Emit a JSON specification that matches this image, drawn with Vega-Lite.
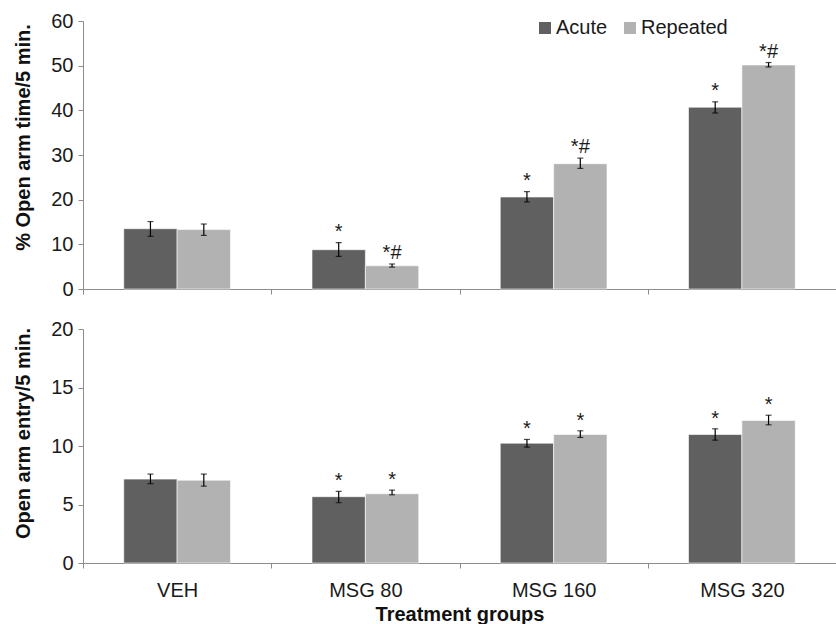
{
  "$schema": "https://vega.github.io/schema/vega-lite/v6.json",
  "background": "white",
  "padding": {"left": 12, "top": 11, "right": 0, "bottom": 0},
  "spacing": 20,
  "config": {
    "font": "Liberation Sans",
    "view": {"stroke": null},
    "axis": {
      "grid": false,
      "domainColor": "#8c8c8c",
      "tickColor": "#8c8c8c",
      "tickSize": 5,
      "labelColor": "#1a1a1a",
      "labelFontSize": 20,
      "titleFontSize": 20,
      "titleFontWeight": "bold",
      "titleColor": "#111111"
    },
    "legend": {
      "orient": "none",
      "legendX": 452,
      "legendY": -3,
      "direction": "horizontal",
      "title": null,
      "symbolType": "square",
      "symbolSize": 144,
      "symbolStrokeWidth": 0,
      "symbolOpacity": 1,
      "labelFontSize": 20,
      "labelColor": "#1a1a1a",
      "labelOffset": 1,
      "columnPadding": 12
    }
  },
  "datasets": {
    "time": [
      {"group": "VEH", "treatment": "Acute", "value": 13.5, "lo": 11.8, "hi": 15.1, "sig": ""},
      {"group": "VEH", "treatment": "Repeated", "value": 13.3, "lo": 12.0, "hi": 14.55, "sig": ""},
      {"group": "MSG 80", "treatment": "Acute", "value": 8.8, "lo": 7.3, "hi": 10.4, "sig": "*"},
      {"group": "MSG 80", "treatment": "Repeated", "value": 5.2, "lo": 4.9, "hi": 5.6, "sig": "*#"},
      {"group": "MSG 160", "treatment": "Acute", "value": 20.6, "lo": 19.5, "hi": 21.8, "sig": "*"},
      {"group": "MSG 160", "treatment": "Repeated", "value": 28.05, "lo": 27.0, "hi": 29.3, "sig": "*#"},
      {"group": "MSG 320", "treatment": "Acute", "value": 40.7, "lo": 39.4, "hi": 41.9, "sig": "*"},
      {"group": "MSG 320", "treatment": "Repeated", "value": 50.15, "lo": 49.7, "hi": 50.7, "sig": "*#"}
    ],
    "entry": [
      {"group": "VEH", "treatment": "Acute", "value": 7.17, "lo": 6.78, "hi": 7.6, "sig": ""},
      {"group": "VEH", "treatment": "Repeated", "value": 7.08, "lo": 6.57, "hi": 7.6, "sig": ""},
      {"group": "MSG 80", "treatment": "Acute", "value": 5.67, "lo": 5.15, "hi": 6.12, "sig": "*"},
      {"group": "MSG 80", "treatment": "Repeated", "value": 5.92, "lo": 5.83, "hi": 6.23, "sig": "*"},
      {"group": "MSG 160", "treatment": "Acute", "value": 10.24, "lo": 9.9, "hi": 10.56, "sig": "*"},
      {"group": "MSG 160", "treatment": "Repeated", "value": 10.98, "lo": 10.73, "hi": 11.3, "sig": "*"},
      {"group": "MSG 320", "treatment": "Acute", "value": 10.98, "lo": 10.5, "hi": 11.47, "sig": "*"},
      {"group": "MSG 320", "treatment": "Repeated", "value": 12.18, "lo": 11.81, "hi": 12.63, "sig": "*"}
    ]
  },
  "resolve": {"scale": {"color": "shared"}},
  "vconcat": [
    {
      "width": 753,
      "height": 268,
      "data": {"name": "time"},
      "encoding": {
        "x": {
          "field": "group", "type": "nominal", "sort": ["VEH", "MSG 80", "MSG 160", "MSG 320"],
          "scale": {"paddingInner": 0.433, "paddingOuter": 0.2165},
          "axis": {"labels": false, "title": null, "tickOffset": -94.1, "labelOffset": 94.1}
        },
        "xOffset": {"field": "treatment", "type": "nominal", "sort": ["Acute", "Repeated"], "scale": {"paddingInner": 0, "paddingOuter": 0}}
      },
      "layer": [
        {
          "mark": {"type": "bar", "stroke": "#ffffff", "strokeWidth": 0.6},
          "encoding": {
            "y": {
              "field": "value", "type": "quantitative",
              "scale": {"domain": [0, 60], "nice": false},
              "axis": {"values": [0, 10, 20, 30, 40, 50, 60], "title": "% Open arm  time/5 min.", "titleX": -50, "titleY": 116, "labelPadding": 5}
            },
            "color": {
              "field": "treatment", "type": "nominal", "sort": ["Acute", "Repeated"],
              "scale": {"domain": ["Acute", "Repeated"], "range": ["#606060", "#b2b2b2"]}
            }
          }
        },
        {
          "mark": {"type": "rule", "color": "#000000", "strokeWidth": 1.2},
          "encoding": {"y": {"field": "lo", "type": "quantitative"}, "y2": {"field": "hi"}}
        },
        {
          "mark": {"type": "tick", "color": "#000000", "size": 6, "thickness": 1.2},
          "encoding": {"y": {"field": "lo", "type": "quantitative"}}
        },
        {
          "mark": {"type": "tick", "color": "#000000", "size": 6, "thickness": 1.2},
          "encoding": {"y": {"field": "hi", "type": "quantitative"}}
        },
        {
          "mark": {"type": "text", "fontSize": 20, "baseline": "alphabetic", "dy": -5, "color": "#1a1a1a"},
          "encoding": {"y": {"field": "hi", "type": "quantitative"}, "text": {"field": "sig"}}
        }
      ]
    },
    {
      "width": 753,
      "height": 234,
      "data": {"name": "entry"},
      "encoding": {
        "x": {
          "field": "group", "type": "nominal", "sort": ["VEH", "MSG 80", "MSG 160", "MSG 320"],
          "scale": {"paddingInner": 0.433, "paddingOuter": 0.2165},
          "axis": {"labelAngle": 0, "title": "Treatment groups", "tickOffset": -94.1, "labelOffset": 94.1, "labelPadding": 12, "titlePadding": 4}
        },
        "xOffset": {"field": "treatment", "type": "nominal", "sort": ["Acute", "Repeated"], "scale": {"paddingInner": 0, "paddingOuter": 0}}
      },
      "layer": [
        {
          "mark": {"type": "bar", "stroke": "#ffffff", "strokeWidth": 0.6},
          "encoding": {
            "y": {
              "field": "value", "type": "quantitative",
              "scale": {"domain": [0, 20], "nice": false},
              "axis": {"values": [0, 5, 10, 15, 20], "title": "Open arm entry/5 min.", "titleX": -50, "titleY": 104, "labelPadding": 5}
            },
            "color": {
              "field": "treatment", "type": "nominal", "sort": ["Acute", "Repeated"],
              "scale": {"domain": ["Acute", "Repeated"], "range": ["#606060", "#b2b2b2"]}
            }
          }
        },
        {
          "mark": {"type": "rule", "color": "#000000", "strokeWidth": 1.2},
          "encoding": {"y": {"field": "lo", "type": "quantitative"}, "y2": {"field": "hi"}}
        },
        {
          "mark": {"type": "tick", "color": "#000000", "size": 6, "thickness": 1.2},
          "encoding": {"y": {"field": "lo", "type": "quantitative"}}
        },
        {
          "mark": {"type": "tick", "color": "#000000", "size": 6, "thickness": 1.2},
          "encoding": {"y": {"field": "hi", "type": "quantitative"}}
        },
        {
          "mark": {"type": "text", "fontSize": 20, "baseline": "alphabetic", "dy": -4, "color": "#1a1a1a"},
          "encoding": {"y": {"field": "hi", "type": "quantitative"}, "text": {"field": "sig"}}
        }
      ]
    }
  ]
}
